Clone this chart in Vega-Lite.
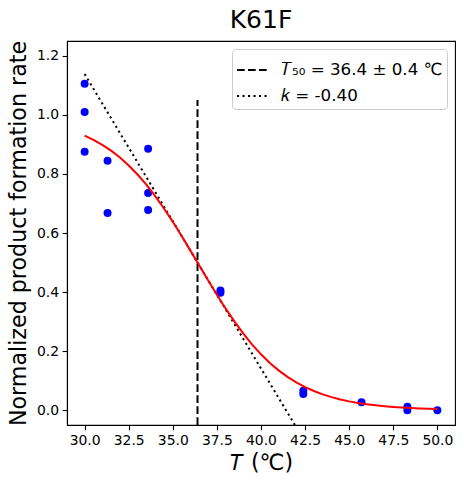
{
  "$schema": "https://vega.github.io/schema/vega-lite/v6.json",
  "autosize": {"type": "none"},
  "width": 388,
  "height": 384,
  "padding": {"left": 67, "top": 41, "right": 9, "bottom": 62},
  "title": {"text": "K61F", "fontSize": 25, "font": "DejaVu Sans", "fontWeight": "normal", "color": "black", "offset": 7, "frame": "group"},
  "config": {
    "font": "DejaVu Sans",
    "view": {"stroke": "black", "strokeWidth": 1.1},
    "axis": {
      "grid": false,
      "labelFont": "DejaVu Sans",
      "labelFontSize": 13.9,
      "labelColor": "black",
      "tickColor": "black",
      "tickSize": 4.9,
      "tickWidth": 1.1,
      "labelPadding": 3.5,
      "domainColor": "black",
      "domainWidth": 1.1,
      "titleFont": "DejaVu Sans",
      "titleFontSize": 22.2,
      "titleFontWeight": "normal",
      "titleColor": "black"
    },
    "legend": {
      "labelFont": "DejaVu Sans",
      "labelFontSize": 16.7,
      "labelColor": "black",
      "labelLimit": 400,
      "fillColor": "white",
      "strokeColor": "#cccccc",
      "cornerRadius": 4,
      "padding": 4,
      "symbolType": "stroke",
      "symbolStrokeColor": "black",
      "symbolStrokeWidth": 2,
      "symbolSize": 1024,
      "labelOffset": 11,
      "rowPadding": -5,
      "offset": 8
    }
  },
  "datasets": {
    "points": [
      {"T": 30.0, "rate": 1.105}, {"T": 30.0, "rate": 1.01}, {"T": 30.0, "rate": 0.875},
      {"T": 31.3, "rate": 0.845}, {"T": 31.3, "rate": 0.668},
      {"T": 33.6, "rate": 0.885}, {"T": 33.6, "rate": 0.735}, {"T": 33.6, "rate": 0.678},
      {"T": 37.7, "rate": 0.398}, {"T": 37.7, "rate": 0.405},
      {"T": 42.4, "rate": 0.066}, {"T": 42.4, "rate": 0.055},
      {"T": 45.7, "rate": 0.027},
      {"T": 48.3, "rate": 0.012}, {"T": 48.3, "rate": 0.0},
      {"T": 50.0, "rate": 0.0}
    ],
    "fit": [
      {"T": 30.0, "rate": 0.9299}, {"T": 30.5, "rate": 0.9156}, {"T": 31.0, "rate": 0.8986},
      {"T": 31.5, "rate": 0.8787}, {"T": 32.0, "rate": 0.8554}, {"T": 32.5, "rate": 0.8286},
      {"T": 33.0, "rate": 0.7980}, {"T": 33.5, "rate": 0.7635}, {"T": 34.0, "rate": 0.7251},
      {"T": 34.5, "rate": 0.6830}, {"T": 35.0, "rate": 0.6378}, {"T": 35.5, "rate": 0.5899},
      {"T": 36.0, "rate": 0.5403}, {"T": 36.5, "rate": 0.4899}, {"T": 37.0, "rate": 0.4397},
      {"T": 37.5, "rate": 0.3907}, {"T": 38.0, "rate": 0.3438}, {"T": 38.5, "rate": 0.2998},
      {"T": 39.0, "rate": 0.2591}, {"T": 39.5, "rate": 0.2223}, {"T": 40.0, "rate": 0.1893},
      {"T": 40.5, "rate": 0.1602}, {"T": 41.0, "rate": 0.1349}, {"T": 41.5, "rate": 0.1130},
      {"T": 42.0, "rate": 0.0943}, {"T": 42.5, "rate": 0.0784}, {"T": 43.0, "rate": 0.0650},
      {"T": 43.5, "rate": 0.0537}, {"T": 44.0, "rate": 0.0443}, {"T": 44.5, "rate": 0.0365},
      {"T": 45.0, "rate": 0.0300}, {"T": 45.5, "rate": 0.0247}, {"T": 46.0, "rate": 0.0203},
      {"T": 46.5, "rate": 0.0166}, {"T": 47.0, "rate": 0.0136}, {"T": 47.5, "rate": 0.0112},
      {"T": 48.0, "rate": 0.0091}, {"T": 48.5, "rate": 0.0075}, {"T": 49.0, "rate": 0.0061},
      {"T": 49.5, "rate": 0.0050}, {"T": 50.0, "rate": 0.0041}
    ],
    "guides": [
      {"series": "𝑇₅₀ = 36.4 ± 0.4 ℃", "T": 36.4, "rate": -0.05, "ord": 0},
      {"series": "𝑇₅₀ = 36.4 ± 0.4 ℃", "T": 36.4, "rate": 1.05, "ord": 1},
      {"series": "𝑘 = -0.40", "T": 30.0, "rate": 1.138, "ord": 0},
      {"series": "𝑘 = -0.40", "T": 41.92, "rate": -0.05, "ord": 1}
    ]
  },
  "encoding": {
    "x": {
      "field": "T",
      "type": "quantitative",
      "scale": {"domain": [29, 51], "nice": false, "zero": false},
      "axis": {"values": [30, 32.5, 35, 37.5, 40, 42.5, 45, 47.5, 50], "format": ".1f", "title": "𝑇 (℃)", "titlePadding": 4}
    },
    "y": {
      "field": "rate",
      "type": "quantitative",
      "scale": {"domain": [-0.05, 1.25], "nice": false, "zero": false},
      "axis": {"values": [0, 0.2, 0.4, 0.6, 0.8, 1.0, 1.2], "format": ".1f", "title": "Normalized product formation rate", "titlePadding": 6}
    }
  },
  "layer": [
    {
      "data": {"name": "guides"},
      "mark": {"type": "line", "color": "black", "strokeWidth": 2, "clip": true},
      "encoding": {
        "detail": {"field": "series"},
        "order": {"field": "ord", "type": "quantitative"},
        "strokeDash": {
          "field": "series",
          "type": "nominal",
          "scale": {"domain": ["𝑇₅₀ = 36.4 ± 0.4 ℃", "𝑘 = -0.40"], "range": [[7.7, 3.3], [2.1, 3.4]]},
          "legend": {"title": null, "orient": "top-right"}
        }
      }
    },
    {
      "data": {"name": "points"},
      "mark": {"type": "circle", "color": "#0000ff", "opacity": 1, "size": 64}
    },
    {
      "data": {"name": "fit"},
      "mark": {"type": "line", "color": "red", "strokeWidth": 2}
    }
  ]
}
